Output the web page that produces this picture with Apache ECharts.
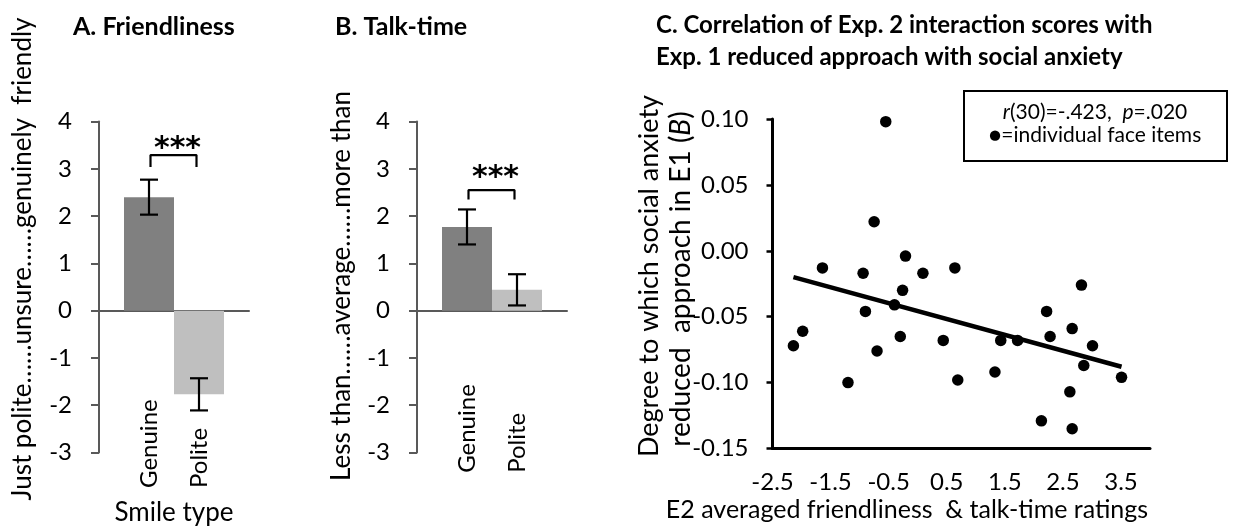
<!DOCTYPE html>
<html>
<head>
<meta charset="utf-8">
<script src="https://cdn.jsdelivr.net/npm/echarts@6/dist/echarts.min.js"></script>
<style>
  html, body { margin: 0; padding: 0; background: #fff; }
  #chart { width: 1251px; height: 528px; }
</style>
</head>
<body>
<div id="chart"></div>
<script>
  // bar panels (A, B)
  const smileTypes = ['Genuine', 'Polite'];
  const friendMean = [2.40, -1.77];
  const friendErr = [0.37, 0.34];
  const talkMean = [1.77, 0.44];
  const talkErr = [0.37, 0.33];

  // significance brackets, in data units
  const bracketX = [1.03, 1.95];
  const friendBracketY = [3.04, 3.29];
  const talkBracketY = [2.35, 2.55];
  const starX = 1.57;
  const friendStarY = 3.42;
  const talkStarY = 2.81;

  // panel C: individual face items
  const itemX = [-0.55, -0.75, -1.64, -0.94, -0.21, 0.09, 0.64, -0.26, -0.40, -0.90,
                 -1.98, -2.14, -0.30, -0.70, -1.20, 0.44, 0.69, 1.43, 1.72, 1.33,
                 2.22, 2.28, 2.82, 2.66, 3.01, 2.86, 3.51, 2.62, 2.13, 2.66];
  const itemY = [0.098, 0.022, -0.013, -0.017, -0.004, -0.017, -0.013, -0.030, -0.041, -0.046,
                 -0.061, -0.072, -0.065, -0.076, -0.100, -0.068, -0.098, -0.068, -0.068, -0.092,
                 -0.046, -0.065, -0.026, -0.059, -0.072, -0.087, -0.096, -0.107, -0.129, -0.135];
  const trendX = [-2.14, 3.51];
  const trendY = [-0.020, -0.088];

  const FONT = 'Lato';
  const chart = echarts.init(document.getElementById('chart'));

  function errorBar(params, api) {
    const x = api.value(0), m = api.value(1), e = api.value(2);
    const top = api.coord([x, m + e]);
    const bot = api.coord([x, m - e]);
    const hw = 9;
    const st = { stroke: '#000', lineWidth: 2.2 };
    return {
      type: 'group',
      children: [
        { type: 'line', shape: { x1: top[0], y1: top[1], x2: bot[0], y2: bot[1] }, style: st },
        { type: 'line', shape: { x1: top[0] - hw, y1: top[1], x2: top[0] + hw, y2: top[1] }, style: st },
        { type: 'line', shape: { x1: bot[0] - hw, y1: bot[1], x2: bot[0] + hw, y2: bot[1] }, style: st }
      ]
    };
  }

  // labelBase: where the rotated category names start (below the plot, in axis units)
  function barPanel(idx, means, errs, bY, starY, labelBase) {
    return [
      {
        type: 'bar', xAxisIndex: idx, yAxisIndex: idx, barWidth: 50,
        data: means.map((v, i) => ({
          value: [i + 1, v],
          itemStyle: { color: i === 0 ? '#808080' : '#bfbfbf' }
        })),
        silent: true
      },
      {
        type: 'custom', xAxisIndex: idx, yAxisIndex: idx,
        renderItem: errorBar,
        data: means.map((v, i) => [i + 1, v, errs[i]]),
        z: 5
      },
      {
        type: 'line', xAxisIndex: idx, yAxisIndex: idx, symbol: 'none',
        lineStyle: { color: '#000', width: 2.2 },
        data: [[bracketX[0], bY[0]], [bracketX[0], bY[1]], [bracketX[1], bY[1]], [bracketX[1], bY[0]]],
        z: 5
      },
      {
        type: 'scatter', xAxisIndex: idx, yAxisIndex: idx, symbolSize: 0,
        itemStyle: { opacity: 1 },
        data: [[starX, starY]],
        label: {
          show: true, position: 'inside', formatter: '***',
          fontFamily: 'DejaVu Sans', fontWeight: 'bold', fontSize: 30, color: '#000'
        }
      },
      {
        // category names, rotated, under the plot
        type: 'scatter', xAxisIndex: idx, yAxisIndex: idx, symbolSize: 0, clip: false,
        itemStyle: { opacity: 1 },
        data: smileTypes.map((name, i) => ({ value: [i + 1, labelBase], name: name })),
        label: {
          show: true, position: 'inside', rotate: 90, align: 'left', verticalAlign: 'middle',
          formatter: p => p.name,
          fontFamily: FONT, fontSize: 24, color: '#000', opacity: 1
        }
      }
    ];
  }

  function barX(idx) {
    return {
      gridIndex: idx, type: 'value', min: 0, max: 3, interval: 1,
      axisLine: { onZero: true, lineStyle: { color: '#595959', width: 2 } },
      axisTick: { show: false },
      splitLine: { show: false },
      axisLabel: { show: false }
    };
  }

  function barY(idx) {
    return {
      gridIndex: idx, type: 'value', min: -3, max: 4, interval: 1,
      axisLine: { show: true, onZero: false, lineStyle: { color: '#595959', width: 2 } },
      axisTick: { show: true, length: 8, lineStyle: { color: '#595959', width: 2 } },
      splitLine: { show: false },
      axisLabel: { fontFamily: FONT, fontSize: 24, color: '#000', margin: 27 }
    };
  }

  const titleStyle = { fontFamily: FONT, fontSize: 24, fontWeight: 'bold', color: '#000' };

  const option = {
    animation: false,
    title: [
      { text: 'A. Friendliness', left: 68, top: 9, textStyle: Object.assign({}, titleStyle, { fontSize: 25 }) },
      { text: 'B. Talk-time', left: 330, top: 9, textStyle: Object.assign({}, titleStyle, { fontSize: 25 }) },
      {
        text: 'C. Correlation of Exp. 2 interaction scores with\nExp. 1 reduced approach with social anxiety',
        left: 651, top: 4,
        textStyle: Object.assign({}, titleStyle, { lineHeight: 32 })
      }
    ],
    grid: [
      { left: 99, top: 121.5, width: 150, height: 331, outerBoundsMode: 'none', containLabel: false },
      { left: 417, top: 121.5, width: 150, height: 331, outerBoundsMode: 'none', containLabel: false },
      { left: 772.5, top: 119, width: 377.5, height: 329.5, outerBoundsMode: 'none', containLabel: false }
    ],
    xAxis: [
      barX(0),
      barX(1),
      {
        gridIndex: 2, type: 'value', min: -2.5, max: 4, interval: 0.5,
        axisLine: { onZero: false, lineStyle: { color: '#000', width: 3 } },
        axisTick: { show: false },
        splitLine: { show: false },
        axisLabel: {
          fontFamily: FONT, fontSize: 24, color: '#000', margin: 22,
          formatter: v => {
            const k = Math.round(v * 2);
            return Math.abs(k % 2) === 1 ? v.toFixed(1) : '';
          }
        }
      }
    ],
    yAxis: [
      barY(0),
      barY(1),
      {
        gridIndex: 2, type: 'value', min: -0.15, max: 0.10, interval: 0.05,
        axisLine: { show: true, onZero: false, lineStyle: { color: '#000', width: 3 } },
        axisTick: { show: true, length: 6, lineStyle: { color: '#000', width: 2.5 } },
        splitLine: { show: false },
        axisLabel: {
          fontFamily: FONT, fontSize: 24, color: '#000', margin: 24,
          formatter: v => (Math.abs(v) < 1e-9 ? 0 : v).toFixed(2)
        }
      }
    ],
    series: [].concat(
      barPanel(0, friendMean, friendErr, friendBracketY, friendStarY, -3.75),
      barPanel(1, talkMean, talkErr, talkBracketY, talkStarY, -3.43),
      [
        {
          type: 'scatter', xAxisIndex: 2, yAxisIndex: 2,
          symbolSize: 11.5, itemStyle: { color: '#000', opacity: 1 },
          data: itemX.map((x, i) => [x, itemY[i]])
        },
        {
          type: 'line', xAxisIndex: 2, yAxisIndex: 2, symbol: 'none',
          lineStyle: { color: '#000', width: 4.5 },
          data: trendX.map((x, i) => [x, trendY[i]])
        }
      ]
    ),
    graphic: [
      {
        type: 'text', x: 23, y: 259, rotation: Math.PI / 2,
        style: {
          text: 'Just polite……unsure……genuinely  friendly',
          fontFamily: FONT, fontSize: 26, fill: '#000', align: 'center', verticalAlign: 'middle'
        }
      },
      {
        type: 'text', x: 342, y: 286, rotation: Math.PI / 2,
        style: {
          text: 'Less than……average……more than',
          fontFamily: FONT, fontSize: 26, fill: '#000', align: 'center', verticalAlign: 'middle'
        }
      },
      {
        type: 'text', x: 174, y: 513,
        style: {
          text: 'Smile type',
          fontFamily: FONT, fontSize: 26, fill: '#000', align: 'center', verticalAlign: 'middle'
        }
      },
      {
        type: 'text', x: 649, y: 276, rotation: Math.PI / 2,
        style: {
          text: 'Degree to which social anxiety',
          fontFamily: FONT, fontSize: 27, fill: '#000', align: 'center', verticalAlign: 'middle'
        }
      },
      {
        type: 'text', x: 681, y: 279, rotation: Math.PI / 2,
        style: {
          text: '{n|reduced  approach in E1 (}{i|B}{n|)}',
          fontFamily: FONT, fontSize: 28, fill: '#000', align: 'center', verticalAlign: 'middle',
          rich: {
            n: { fontFamily: FONT, fontSize: 28, fill: '#000' },
            i: { fontFamily: FONT, fontSize: 28, fill: '#000', fontStyle: 'italic' }
          }
        }
      },
      {
        type: 'text', x: 907, y: 510,
        style: {
          text: 'E2 averaged friendliness  & talk-time ratings',
          fontFamily: FONT, fontSize: 25, fill: '#000', align: 'center', verticalAlign: 'middle'
        }
      },
      {
        type: 'group', x: 964, y: 91,
        children: [
          {
            type: 'rect', shape: { x: 0, y: 0, width: 263, height: 70 },
            style: { fill: '#fff', stroke: '#000', lineWidth: 2 }
          },
          {
            type: 'text', x: 131, y: 33,
            style: {
              text: '{i|r}{n|(30)=-.423,  }{i|p}{n|=.020}\n{n|●=individual face items}',
              align: 'center', verticalAlign: 'middle', fill: '#000',
              fontFamily: FONT, fontSize: 21, lineHeight: 23,
              rich: {
                n: { fontFamily: FONT, fontSize: 21, fill: '#000', lineHeight: 23 },
                i: { fontFamily: FONT, fontSize: 21, fill: '#000', fontStyle: 'italic', lineHeight: 23 }
              }
            }
          }
        ]
      }
    ]
  };

  chart.setOption(option);
</script>
</body>
</html>
